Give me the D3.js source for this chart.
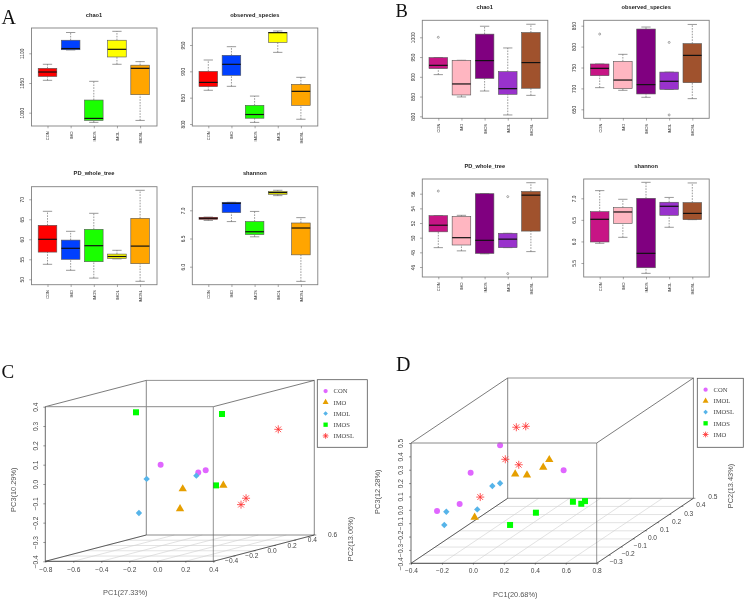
<!doctype html>
<html lang="en">
<head>
  <meta charset="utf-8">
  <title>Alpha diversity and PCoA</title>
  <style>
    html, body { margin: 0; padding: 0; background: #fff; }
    svg { display: block; filter: blur(0.3px); }
    text { font-family: "Liberation Sans", sans-serif; }
    .letter, .legend text { font-family: "Liberation Serif", serif; }
  </style>
  <script src="https://cdnjs.cloudflare.com/ajax/libs/d3/7.8.5/d3.min.js"></script>
</head>
<body>
<div id="chart"></div>
<script>
// box stats are [whisker low, q1, median, q3, whisker high]
var groups = ["CON", "IMO", "IMOS", "IMOL", "IMOSL"];

var chao1A = [[1054.5, 1061, 1068.5, 1074.7, 1081.5], [1105.6, 1106, 1108, 1122, 1135], [983.7, 987, 990.4, 1021.3, 1052.8], [1081.5, 1093.8, 1106.7, 1122, 1137], [987, 1030.3, 1074.7, 1080, 1086]];
var observedA = [[864, 871, 879, 900, 921.5], [871.5, 892.4, 913.3, 930.4, 946.8], [803, 811, 818, 835.4, 853], [936, 955, 973.4, 974, 976.6], [809, 835.4, 862, 875.3, 888.6]];
var pdA = [[53.75, 56.8, 60, 63.5, 67], [52.25, 55, 57.75, 59.8, 62], [50.3, 54.4, 58.4, 62.5, 66.5], [55.1, 55.2, 55.7, 56.3, 57.25], [49.5, 53.9, 58.3, 65.25, 72.25]];
var shannonA = [[6.82, 6.84, 6.858, 6.876, 6.88], [6.8, 6.96, 7.124, 7.142, 7.142], [6.53, 6.57, 6.62, 6.8, 6.98], [7.26, 7.284, 7.314, 7.337, 7.355], [5.74, 6.21, 6.686, 6.775, 6.87]];

var chao1B = [[905.5, 920.7, 929, 948.5, 948.5], [849, 854, 881.9, 941.8, 941.8], [864, 896, 941, 1008, 1028], [803.4, 855.7, 870, 913, 973], [853, 871, 936, 1012, 1033]];
var observedB = [[701.8, 730.5, 748, 758.4, 758.4], [695.4, 699.4, 720, 764.7, 781.5], [678.7, 686.7, 709, 842, 846.8], [697.8, 697.8, 717, 739, 739], [675.5, 713.7, 779, 807, 853]];
var pdB = [[48.64, 50.8, 51.7, 53, 53], [48.2, 49, 50, 52.9, 53.05], [47.8, 47.86, 49.64, 56, 56], [48.64, 48.64, 49.8, 50.6, 50.6], [48.1, 50.9, 55.8, 56.3, 57.5]];
var shannonB = [[5.956, 5.987, 6.513, 6.69, 7.178], [6.095, 6.42, 6.683, 6.784, 6.977], [5.26, 5.39, 5.724, 7, 7.37], [6.328, 6.606, 6.815, 6.908, 7.02], [6.505, 6.505, 6.65, 6.9, 7.356]];

// outliers by group index
var chao1BOut = [[0, 1000]];
var observedBOut = [[0, 830], [3, 810], [3, 636.5]];
var pdBOut = [[0, 56.36], [3, 55.6], [3, 45.1]];

var coloursA = ["#ff0000", "#0040ff", "#1aff00", "#ffff00", "#ffa500"];
var coloursB = ["#c71585", "#ffb6c1", "#800080", "#9932cc", "#a0522d"];

// PCoA points as [PC1, PC2, PC3]
var conC = [[-0.409, 0.2, 0.018], [-0.015, 0.1, 0.003], [-0.068, 0.1, -0.008]];
var imoC = [[-0.107, 0, -0.08], [-0.054, -0.1, -0.169], [0.183, 0, -0.061]];
var imolC = [[-0.581, 0.3, -0.069], [-0.564, 0.2, -0.232], [-0.226, 0.3, -0.052]];
var imosC = [[-0.513, 0.1, 0.303], [0.318, -0.2, 0.335], [0.203, -0.1, -0.048]];
var imoslC = [[0.287, 0.4, 0.174], [0.129, 0.3, -0.169], [0.093, 0.3, -0.202]];

var conD = [[-0.293, 0.3, 0.118], [-0.327, 0.1, 0.035], [-0.32, 0, -0.139], [-0.388, -0.1, -0.13], [0.352, 0, 0.113]];
var imolD = [[0.181, 0.1, 0.132], [0.142, 0.1, 0.075], [0.037, 0.1, 0.017], [0.039, 0, 0.085], [-0.145, -0.1, -0.178]];
var imoslD = [[-0.215, 0.2, -0.105], [-0.265, 0.2, -0.126], [-0.206, 0, -0.179], [-0.328, -0.1, -0.136], [-0.263, -0.2, -0.174]];
var imosD = [[0.251, -0.1, -0.143], [0.162, -0.2, -0.174], [0.412, 0, -0.122], [0.49, 0, -0.117], [0.466, 0, -0.137]];
var imoD = [[-0.11, 0.2, 0.314], [-0.049, 0.2, 0.321], [-0.103, 0.1, 0.135], [-0.016, 0.1, 0.094], [-0.187, 0, -0.087]];

var pc1TicksC = [-0.8, -0.6, -0.4, -0.2, 0, 0.2, 0.4];
var pc2TicksC = [-0.4, -0.2, 0, 0.2, 0.4, 0.6];
var pc3TicksC = [-0.4, -0.3, -0.2, -0.1, 0, 0.1, 0.2, 0.3, 0.4];
var pc1TicksD = [-0.4, -0.2, 0, 0.2, 0.4, 0.6, 0.8];
var pc2TicksD = [-0.3, -0.2, -0.1, 0, 0.1, 0.2, 0.3, 0.4, 0.5];
var pc3TicksD = [-0.4, -0.3, -0.2, -0.1, 0, 0.1, 0.2, 0.3, 0.4, 0.5];

var pcoaColours = { CON: "#e066ff", IMO: "#e69f00", IMOL: "#56b4e9", IMOS: "#00ff00", IMOSL: "#ff3030" };

var width = 745, height = 600;
var svg = d3.select("#chart").append("svg").attr("width", width).attr("height", height);

var minus = function(s) { return String(s).replace("-", "\u2212"); };

function boxPanel(o) {
  var g = svg.append("g");
  var x = d3.scalePoint().domain(groups).range([o.left + 16, o.left + 108.6]);
  var y = d3.scaleLinear().domain(o.domain).range(o.range);
  var right = o.left + 125.5, bottom = o.top + 98;
  var bw = 18.6, cap = 9.3;

  g.append("text").attr("x", o.left + 62.5).attr("y", o.top - 11.5)
    .attr("text-anchor", "middle").attr("font-size", 5.7).attr("font-weight", "bold")
    .attr("fill", "#222").text(o.title);

  o.stats.forEach(function(s, i) {
    var cx = x(groups[i]);
    var b = g.append("g").attr("stroke", "#555").attr("stroke-width", 0.6);
    b.append("line").attr("x1", cx).attr("x2", cx).attr("y1", y(s[0])).attr("y2", y(s[1])).attr("stroke-dasharray", "1.6,1.2");
    b.append("line").attr("x1", cx).attr("x2", cx).attr("y1", y(s[3])).attr("y2", y(s[4])).attr("stroke-dasharray", "1.6,1.2");
    b.append("line").attr("x1", cx - cap / 2).attr("x2", cx + cap / 2).attr("y1", y(s[0])).attr("y2", y(s[0]));
    b.append("line").attr("x1", cx - cap / 2).attr("x2", cx + cap / 2).attr("y1", y(s[4])).attr("y2", y(s[4]));
    b.append("rect").attr("x", cx - bw / 2).attr("width", bw).attr("y", y(s[3])).attr("height", y(s[1]) - y(s[3]))
      .attr("fill", o.colours[i]);
    b.append("line").attr("x1", cx - bw / 2).attr("x2", cx + bw / 2).attr("y1", y(s[2])).attr("y2", y(s[2]))
      .attr("stroke", "#111").attr("stroke-width", 1.2);
  });

  (o.outliers || []).forEach(function(p) {
    g.append("circle").attr("cx", x(groups[p[0]])).attr("cy", y(p[1])).attr("r", 1)
      .attr("fill", "none").attr("stroke", "#555").attr("stroke-width", 0.5);
  });

  g.append("rect").attr("x", o.left).attr("y", o.top).attr("width", right - o.left).attr("height", bottom - o.top)
    .attr("fill", "none").attr("stroke", "#808080").attr("stroke-width", 0.9);

  var ya = g.append("g").attr("transform", "translate(" + o.left + ",0)")
    .call(d3.axisLeft(y).tickValues(o.ticks).tickSize(2.3).tickFormat(o.format || d3.format("d")));
  ya.select(".domain").remove();
  ya.selectAll("line").attr("stroke", "#555").attr("stroke-width", 0.5);
  ya.selectAll("text").attr("font-size", 4.8).attr("fill", "#333")
    .attr("text-anchor", "middle").attr("x", 0).attr("y", 0).attr("dy", 0)
    .attr("transform", "translate(-7.5,0) rotate(-90)");

  var xa = g.append("g").attr("transform", "translate(0," + bottom + ")")
    .call(d3.axisBottom(x).tickSize(2.3));
  xa.select(".domain").remove();
  xa.selectAll("line").attr("stroke", "#555").attr("stroke-width", 0.5);
  xa.selectAll("text").attr("font-size", 3.9).attr("fill", "#333")
    .attr("text-anchor", "end").attr("x", 0).attr("y", 0).attr("dy", 0)
    .attr("transform", "translate(1.4,5.5) rotate(-90)");
}

function symbol(g, name, cx, cy, k) {
  var c = pcoaColours[name];
  var type = { CON: d3.symbolCircle, IMO: d3.symbolTriangle, IMOL: d3.symbolDiamond2, IMOS: d3.symbolSquare }[name];
  if (name === "IMOSL") {
    var r = 4 * k;
    var s = g.append("g").attr("transform", "translate(" + cx + "," + cy + ")").attr("stroke", c).attr("stroke-width", 0.8);
    [0, 45, 90, 135].forEach(function(a) {
      s.append("line").attr("x1", -r).attr("x2", r).attr("transform", "rotate(" + a + ")");
    });
    return;
  }
  var area = { CON: 28, IMO: 30, IMOL: 26, IMOS: 36 }[name] * k * k;
  g.append("path").attr("transform", "translate(" + cx + "," + cy + ")")
    .attr("d", d3.symbol().type(type).size(area)()).attr("fill", c);
}

function scatter3d(o) {
  var g = svg.append("g");
  var x = d3.scaleLinear().domain(o.x).range([o.left, o.right]);
  var z = d3.scaleLinear().domain(o.z).range([o.bottom, o.top]);
  var u = d3.scaleLinear().domain(o.y).range([0, 1]);
  var px = function(a, b) { return x(a) + u(b) * o.dx; };
  var py = function(b, c) { return z(c) - u(b) * o.dy; };

  var L = o.left, R = o.right, T = o.top, B = o.bottom, dx = o.dx, dy = o.dy;
  var seg = function(x1, y1, x2, y2, col, w) {
    g.append("line").attr("x1", x1).attr("y1", y1).attr("x2", x2).attr("y2", y2)
      .attr("stroke", col).attr("stroke-width", w);
  };

  // floor grid
  o.xTicks.forEach(function(t) { seg(x(t), B, x(t) + dx, B - dy, "#cfcfcf", 0.6); });
  o.yTicks.forEach(function(t) {
    seg(L + u(t) * dx, B - u(t) * dy, R + u(t) * dx, B - u(t) * dy, "#cfcfcf", 0.6);
  });

  // back faces
  seg(L + dx, T - dy, R + dx, T - dy, "#666", 0.7);
  seg(L + dx, T - dy, L + dx, B - dy, "#555", 0.7);
  seg(R + dx, T - dy, R + dx, B - dy, "#555", 0.7);
  seg(L + dx, B - dy, R + dx, B - dy, "#777", 0.7);
  seg(L, T, L + dx, T - dy, "#444", 0.7);
  seg(R, T, R + dx, T - dy, "#444", 0.7);
  seg(L, B, L + dx, B - dy, "#222", 0.7);
  seg(R, B, R + dx, B - dy, "#222", 0.7);

  // points
  o.series.forEach(function(s) {
    s.values.forEach(function(p) {
      symbol(g, s.key, px(p[0], p[1]), py(p[1], p[2]), 1);
    });
  });

  // front face
  seg(L, T, R, T, "#8a8a8a", 1);
  seg(R, T, R, B, "#666", 0.7);
  seg(L, T, L, B, "#444", 0.8);
  seg(L, B, R, B, "#222", 0.8);

  var fmt = function(d) { return minus(d3.format(".1f")(d)); };

  var xa = g.append("g").attr("transform", "translate(0," + B + ")")
    .call(d3.axisBottom(x).tickValues(o.xTicks).tickSize(1.5).tickFormat(fmt));
  xa.select(".domain").remove();
  xa.selectAll("line").attr("stroke", "#333").attr("stroke-width", 0.5);
  xa.selectAll("text").attr("font-size", 6.6).attr("fill", "#444").attr("y", o.xLabelY).attr("dy", 0);

  var za = g.append("g").attr("transform", "translate(" + L + ",0)")
    .call(d3.axisLeft(z).tickValues(o.zTicks).tickSize(2).tickFormat(fmt));
  za.select(".domain").remove();
  za.selectAll("line").attr("stroke", "#333").attr("stroke-width", 0.5);
  za.selectAll("text").attr("font-size", 6.6).attr("fill", "#444")
    .attr("text-anchor", "middle").attr("dy", 0).attr("x", 0).attr("y", 0)
    .attr("transform", "translate(" + o.zLabelX + ",0) rotate(-90)");

  var ya = g.append("g");
  o.yTicks.forEach(function(t) {
    var tx = R + u(t) * dx, ty = B - u(t) * dy;
    seg(tx, ty, tx + 2, ty, "#333", 0.5);
    ya.append("text").attr("x", tx + o.yLabel[0]).attr("y", ty + o.yLabel[1] + 2.3)
      .attr("text-anchor", "middle").attr("font-size", 6.6).attr("fill", "#444")
      .text(fmt(t));
  });

  o.axisLabels.forEach(function(a) {
    g.append("text").attr("text-anchor", "middle").attr("font-size", 7.4).attr("fill", "#555")
      .attr("transform", "translate(" + a[1] + "," + a[2] + ")" + (a[3] ? " rotate(-90)" : "")).text(a[0]);
  });

  // legend
  var lg = g.append("g").attr("class", "legend");
  lg.append("rect").attr("x", o.legend.x).attr("y", o.legend.y).attr("width", o.legend.w).attr("height", o.legend.h)
    .attr("fill", "none").attr("stroke", "#555").attr("stroke-width", 0.8);
  o.series.forEach(function(s, i) {
    var ly = o.legend.y + 11.4 + i * 11.2;
    symbol(lg, s.key, o.legend.x + 8.3, ly, 0.72);
    lg.append("text").attr("x", o.legend.x + 16.2).attr("y", ly + 2.2)
      .attr("font-size", 6.6).attr("fill", "#444").text(s.label || s.key);
  });
}

var oneFmt = d3.format(".1f");
var top1 = 28, top2 = 186.7;

boxPanel({ title: "chao1", left: 31.5, top: top1, stats: chao1A, colours: coloursA, domain: [1000, 1100], range: [112.7, 53.3], ticks: [1000, 1050, 1100] });
boxPanel({ title: "observed_species", left: 192.3, top: top1, stats: observedA, colours: coloursA, domain: [800, 950], range: [124, 45], ticks: [800, 850, 900, 950] });
boxPanel({ title: "PD_whole_tree", left: 31.5, top: top2, stats: pdA, colours: coloursA, domain: [50, 70], range: [279.3, 199.3], ticks: [50, 55, 60, 65, 70] });
boxPanel({ title: "shannon", left: 192.3, top: top2, stats: shannonA, colours: coloursA, domain: [6, 7], range: [266.7, 210.3], ticks: [6, 6.5, 7], format: oneFmt });

boxPanel({ title: "chao1", left: 422.3, top: 20.3, stats: chao1B, colours: coloursB, domain: [800, 1000], range: [116.3, 37.3], ticks: [800, 850, 900, 950, 1000], outliers: chao1BOut });
boxPanel({ title: "observed_species", left: 583.7, top: 20.3, stats: observedB, colours: coloursB, domain: [650, 850], range: [109.3, 25.7], ticks: [650, 700, 750, 800, 850], outliers: observedBOut });
boxPanel({ title: "PD_whole_tree", left: 422.3, top: 179, stats: pdB, colours: coloursB, domain: [46, 56], range: [267, 193.7], ticks: [46, 48, 50, 52, 54, 56], outliers: pdBOut });
boxPanel({ title: "shannon", left: 583.7, top: 179, stats: shannonB, colours: coloursB, domain: [5.5, 7], range: [263, 198.3], ticks: [5.5, 6, 6.5, 7], format: oneFmt });

scatter3d({
  left: 45.3, right: 213.3, top: 406.7, bottom: 561.3, dx: 101, dy: 26.3,
  x: [-0.8, 0.4], y: [-0.4, 0.6], z: [-0.4, 0.4],
  xTicks: pc1TicksC, yTicks: pc2TicksC, zTicks: pc3TicksC,
  xLabelY: 10.3, zLabelX: -7, yLabel: [18.3, -0.3],
  series: [{ key: "CON", values: conC }, { key: "IMO", values: imoC }, { key: "IMOL", values: imolC }, { key: "IMOS", values: imosC }, { key: "IMOSL", values: imoslC }],
  axisLabels: [["PC1(27.33%)", 125.3, 594.5, false], ["PC3(10.29%)", 16, 489.7, true], ["PC2(13.06%)", 352.5, 539, true]],
  legend: { x: 317.3, y: 379.7, w: 50, h: 67.6 }
});

scatter3d({
  left: 411, right: 596.7, top: 443, bottom: 563.3, dx: 96.7, dy: 65,
  x: [-0.4, 0.8], y: [-0.3, 0.5], z: [-0.4, 0.5],
  xTicks: pc1TicksD, yTicks: pc2TicksD, zTicks: pc3TicksD,
  xLabelY: 9.8, zLabelX: -8, yLabel: [19.5, -1.3],
  series: [
    { key: "CON", values: conD },
    { key: "IMO", label: "IMOL", values: imolD },
    { key: "IMOL", label: "IMOSL", values: imoslD },
    { key: "IMOS", values: imosD },
    { key: "IMOSL", label: "IMO", values: imoD }
  ],
  axisLabels: [["PC1(20.68%)", 515.3, 597, false], ["PC3(12.28%)", 379.8, 491.7, true], ["PC2(13.43%)", 732.5, 486, true]],
  legend: { x: 697.3, y: 378.3, w: 46, h: 69 }
});

// panel letters
[["A", 1.5, 24, 20], ["B", 395.5, 16.5, 18.5], ["C", 1.5, 377.7, 19], ["D", 396, 370.7, 20]].forEach(function(l) {
  svg.append("text").attr("class", "letter").attr("x", l[1]).attr("y", l[2])
    .attr("font-size", l[3]).attr("fill", "#111").text(l[0]);
});
</script>
</body>
</html>
